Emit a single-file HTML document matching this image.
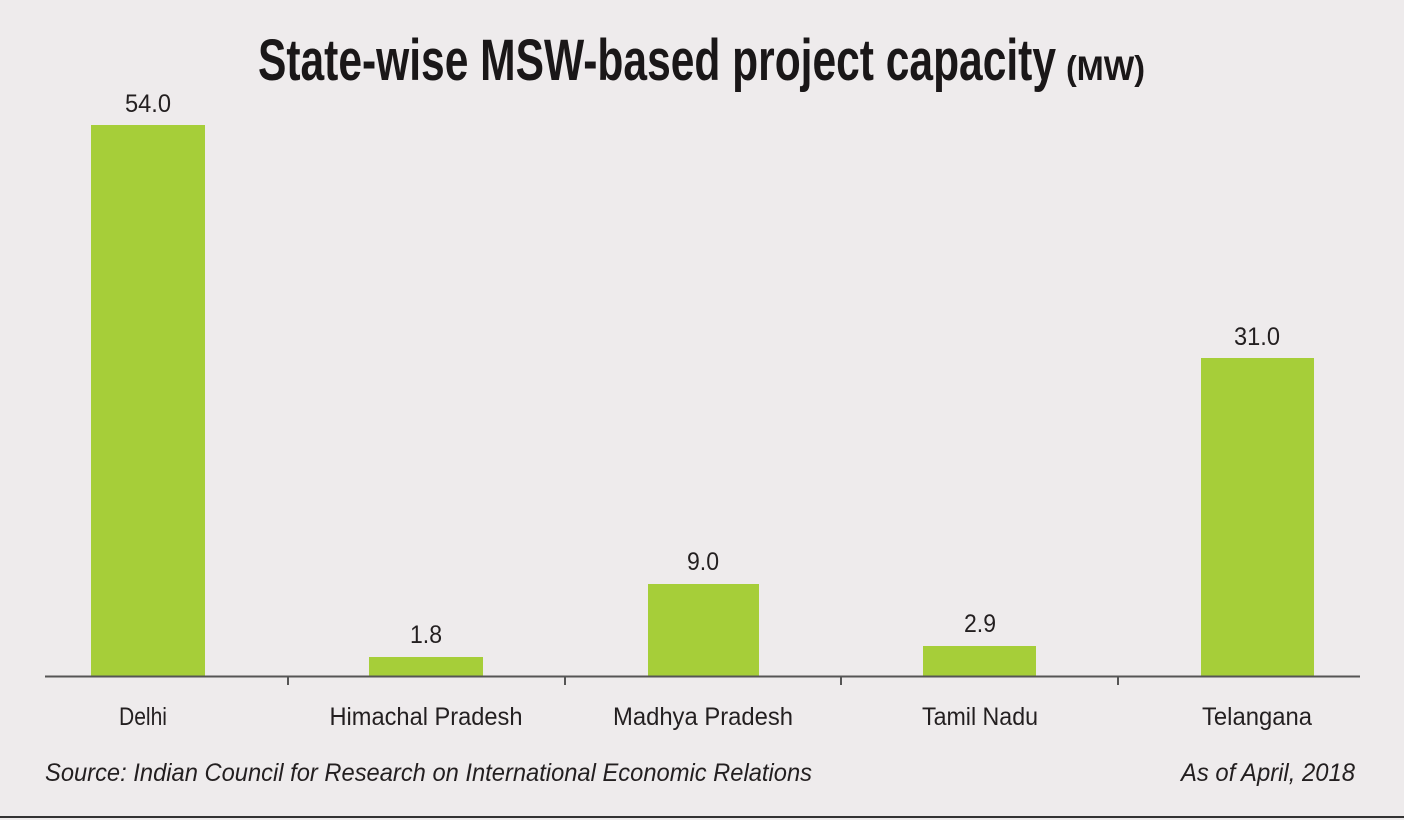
<!DOCTYPE html>
<html><head><meta charset="utf-8"><style>
html,body{margin:0;padding:0;background:#eeebec;}
svg{display:block;}
</style></head><body>
<svg width="1404" height="820" viewBox="0 0 1404 820" xmlns="http://www.w3.org/2000/svg">
<rect width="1404" height="820" fill="#eeebec"/>
<g font-family="Liberation Sans, sans-serif" fill="#1a1718">
<text x="258" y="80" font-size="58" font-weight="bold" textLength="798" lengthAdjust="spacingAndGlyphs">State-wise MSW-based project capacity</text>
<text x="1066" y="80" font-size="34" font-weight="bold" textLength="79" lengthAdjust="spacingAndGlyphs">(MW)</text>
</g>
<g fill="#a6ce39">
<rect x="91" y="125" width="114" height="551"/>
<rect x="369" y="657" width="114" height="19"/>
<rect x="648" y="584" width="111" height="92"/>
<rect x="923" y="646" width="113" height="30"/>
<rect x="1201" y="358" width="113" height="318"/>
</g>
<g stroke="#555" stroke-width="2">
<line x1="45" y1="676.5" x2="1360" y2="676.5"/>
<line x1="288" y1="676" x2="288" y2="685"/>
<line x1="565" y1="676" x2="565" y2="685"/>
<line x1="841" y1="676" x2="841" y2="685"/>
<line x1="1118" y1="676" x2="1118" y2="685"/>
</g>
<line x1="0" y1="817" x2="1404" y2="817" stroke="#333" stroke-width="2"/>
<g font-family="Liberation Sans, sans-serif" font-size="25" fill="#231f20" text-anchor="middle">
<text x="148" y="112" textLength="46" lengthAdjust="spacingAndGlyphs">54.0</text>
<text x="426" y="643" textLength="32" lengthAdjust="spacingAndGlyphs">1.8</text>
<text x="703" y="570" textLength="32" lengthAdjust="spacingAndGlyphs">9.0</text>
<text x="980" y="632" textLength="32" lengthAdjust="spacingAndGlyphs">2.9</text>
<text x="1257" y="345" textLength="46" lengthAdjust="spacingAndGlyphs">31.0</text>
<text x="143" y="725" textLength="48" lengthAdjust="spacingAndGlyphs">Delhi</text>
<text x="426" y="725" textLength="193" lengthAdjust="spacingAndGlyphs">Himachal Pradesh</text>
<text x="703" y="725" textLength="180" lengthAdjust="spacingAndGlyphs">Madhya Pradesh</text>
<text x="980" y="725" textLength="116" lengthAdjust="spacingAndGlyphs">Tamil Nadu</text>
<text x="1257" y="725" textLength="110" lengthAdjust="spacingAndGlyphs">Telangana</text>
</g>
<g font-family="Liberation Sans, sans-serif" font-size="25" font-style="italic" fill="#231f20">
<text x="45" y="781" textLength="767" lengthAdjust="spacingAndGlyphs">Source: Indian Council for Research on International Economic Relations</text>
<text x="1181" y="781" textLength="174" lengthAdjust="spacingAndGlyphs">As of April, 2018</text>
</g>
</svg>
</body></html>
